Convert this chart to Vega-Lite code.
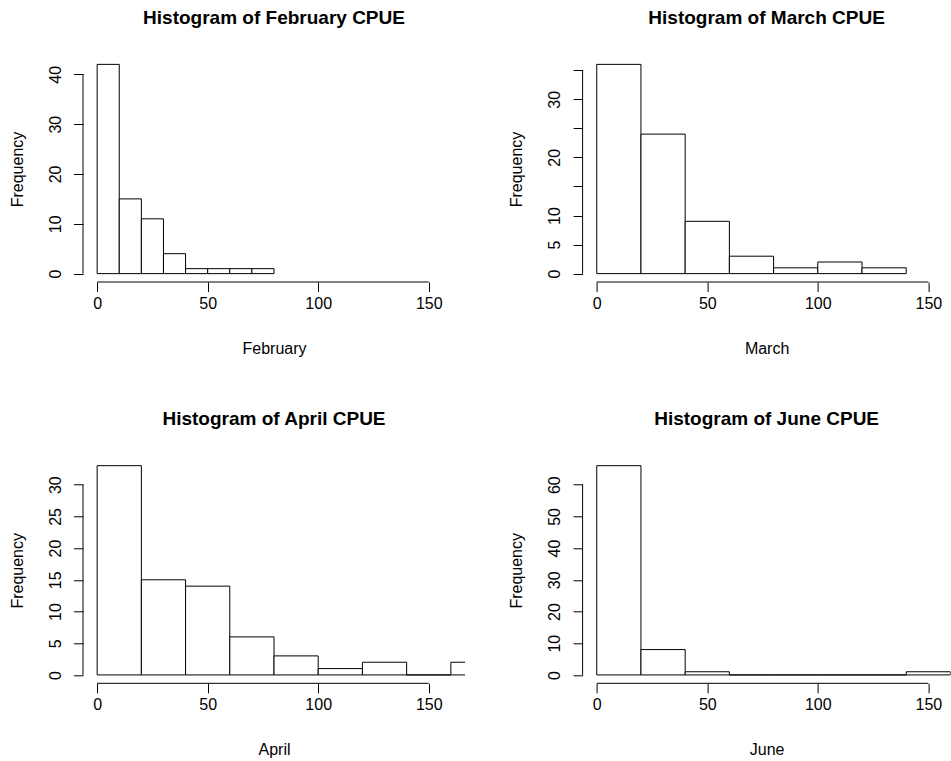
{
  "$schema": "https://vega.github.io/schema/vega-lite/v6.json",
  "background": "white",
  "padding": {"left": 9, "top": 8, "right": 0, "bottom": 0},
  "bounds": "flush",
  "columns": 2,
  "spacing": {"row": 175.3, "column": 117.6},
  "datasets": {
    "feb": [
      {"bin_start": 0, "bin_end": 10, "count": 42},
      {"bin_start": 10, "bin_end": 20, "count": 15},
      {"bin_start": 20, "bin_end": 30, "count": 11},
      {"bin_start": 30, "bin_end": 40, "count": 4},
      {"bin_start": 40, "bin_end": 50, "count": 1},
      {"bin_start": 50, "bin_end": 60, "count": 1},
      {"bin_start": 60, "bin_end": 70, "count": 1},
      {"bin_start": 70, "bin_end": 80, "count": 1}
    ],
    "mar": [
      {"bin_start": 0, "bin_end": 20, "count": 36},
      {"bin_start": 20, "bin_end": 40, "count": 24},
      {"bin_start": 40, "bin_end": 60, "count": 9},
      {"bin_start": 60, "bin_end": 80, "count": 3},
      {"bin_start": 80, "bin_end": 100, "count": 1},
      {"bin_start": 100, "bin_end": 120, "count": 2},
      {"bin_start": 120, "bin_end": 140, "count": 1}
    ],
    "apr": [
      {"bin_start": 0, "bin_end": 20, "count": 33},
      {"bin_start": 20, "bin_end": 40, "count": 15},
      {"bin_start": 40, "bin_end": 60, "count": 14},
      {"bin_start": 60, "bin_end": 80, "count": 6},
      {"bin_start": 80, "bin_end": 100, "count": 3},
      {"bin_start": 100, "bin_end": 120, "count": 1},
      {"bin_start": 120, "bin_end": 140, "count": 2},
      {"bin_start": 140, "bin_end": 160, "count": 0},
      {"bin_start": 160, "bin_end": 180, "count": 2}
    ],
    "jun": [
      {"bin_start": 0, "bin_end": 20, "count": 66},
      {"bin_start": 20, "bin_end": 40, "count": 8},
      {"bin_start": 40, "bin_end": 60, "count": 1},
      {"bin_start": 60, "bin_end": 80, "count": 0},
      {"bin_start": 80, "bin_end": 100, "count": 0},
      {"bin_start": 100, "bin_end": 120, "count": 0},
      {"bin_start": 120, "bin_end": 140, "count": 0},
      {"bin_start": 140, "bin_end": 160, "count": 1}
    ]
  },
  "concat": [
    {
      "width": 382, "height": 226,
      "title": "Histogram of February CPUE",
      "layer": [
        {
          "data": {"name": "feb"},
          "mark": {"type": "rect", "fill": "white", "stroke": "black", "strokeWidth": 1, "clip": true},
          "encoding": {
            "x": {"field": "bin_start", "type": "quantitative", "scale": {"domain": [-6.4, 166.4], "nice": false, "zero": false}, "axis": {"values": [0, 50, 100, 150], "title": "February"}},
            "x2": {"field": "bin_end"},
            "y": {"field": "count", "type": "quantitative", "scale": {"domain": [-1.68, 43.68], "nice": false, "zero": false}, "axis": {"values": [0, 10, 20, 30, 40], "title": "Frequency"}},
            "y2": {"datum": 0}
          }
        },
        {
          "data": {"values": [{}]},
          "mark": {"type": "rule", "color": "black", "strokeWidth": 1},
          "encoding": {
            "x": {"datum": 0, "type": "quantitative", "axis": {"values": [0, 50, 100, 150], "title": "February"}},
            "x2": {"datum": 150},
            "y": {"datum": -1.68, "type": "quantitative", "axis": {"values": [0, 10, 20, 30, 40], "title": "Frequency"}}
          }
        },
        {
          "data": {"values": [{}]},
          "mark": {"type": "rule", "color": "black", "strokeWidth": 1},
          "encoding": {
            "x": {"datum": -6.4, "type": "quantitative", "axis": {"values": [0, 50, 100, 150], "title": "February"}},
            "y": {"datum": 0, "type": "quantitative", "axis": {"values": [0, 10, 20, 30, 40], "title": "Frequency"}},
            "y2": {"datum": 40}
          }
        }
      ]
    },
    {
      "width": 368, "height": 226,
      "title": "Histogram of March CPUE",
      "layer": [
        {
          "data": {"name": "mar"},
          "mark": {"type": "rect", "fill": "white", "stroke": "black", "strokeWidth": 1, "clip": true},
          "encoding": {
            "x": {"field": "bin_start", "type": "quantitative", "scale": {"domain": [-6.4, 160.07], "nice": false, "zero": false}, "axis": {"values": [0, 50, 100, 150], "title": "March"}},
            "x2": {"field": "bin_end"},
            "y": {"field": "count", "type": "quantitative", "scale": {"domain": [-1.44, 37.44], "nice": false, "zero": false}, "axis": {"values": [0, 5, 10, 15, 20, 25, 30, 35], "labelExpr": "indexof([15, 25, 35], datum.value) >= 0 ? '' : datum.label", "title": "Frequency"}},
            "y2": {"datum": 0}
          }
        },
        {
          "data": {"values": [{}]},
          "mark": {"type": "rule", "color": "black", "strokeWidth": 1},
          "encoding": {
            "x": {"datum": 0, "type": "quantitative", "axis": {"values": [0, 50, 100, 150], "title": "March"}},
            "x2": {"datum": 150},
            "y": {"datum": -1.44, "type": "quantitative", "axis": {"values": [0, 5, 10, 15, 20, 25, 30, 35], "labelExpr": "indexof([15, 25, 35], datum.value) >= 0 ? '' : datum.label", "title": "Frequency"}}
          }
        },
        {
          "data": {"values": [{}]},
          "mark": {"type": "rule", "color": "black", "strokeWidth": 1},
          "encoding": {
            "x": {"datum": -6.4, "type": "quantitative", "axis": {"values": [0, 50, 100, 150], "title": "March"}},
            "y": {"datum": 0, "type": "quantitative", "axis": {"values": [0, 5, 10, 15, 20, 25, 30, 35], "labelExpr": "indexof([15, 25, 35], datum.value) >= 0 ? '' : datum.label", "title": "Frequency"}},
            "y2": {"datum": 35}
          }
        }
      ]
    },
    {
      "width": 382, "height": 226,
      "title": "Histogram of April CPUE",
      "layer": [
        {
          "data": {"name": "apr"},
          "mark": {"type": "rect", "fill": "white", "stroke": "black", "strokeWidth": 1, "clip": true},
          "encoding": {
            "x": {"field": "bin_start", "type": "quantitative", "scale": {"domain": [-6.4, 166.4], "nice": false, "zero": false}, "axis": {"values": [0, 50, 100, 150], "title": "April"}},
            "x2": {"field": "bin_end"},
            "y": {"field": "count", "type": "quantitative", "scale": {"domain": [-1.32, 34.32], "nice": false, "zero": false}, "axis": {"values": [0, 5, 10, 15, 20, 25, 30], "title": "Frequency"}},
            "y2": {"datum": 0}
          }
        },
        {
          "data": {"values": [{}]},
          "mark": {"type": "rule", "color": "black", "strokeWidth": 1},
          "encoding": {
            "x": {"datum": 0, "type": "quantitative", "axis": {"values": [0, 50, 100, 150], "title": "April"}},
            "x2": {"datum": 150},
            "y": {"datum": -1.32, "type": "quantitative", "axis": {"values": [0, 5, 10, 15, 20, 25, 30], "title": "Frequency"}}
          }
        },
        {
          "data": {"values": [{}]},
          "mark": {"type": "rule", "color": "black", "strokeWidth": 1},
          "encoding": {
            "x": {"datum": -6.4, "type": "quantitative", "axis": {"values": [0, 50, 100, 150], "title": "April"}},
            "y": {"datum": 0, "type": "quantitative", "axis": {"values": [0, 5, 10, 15, 20, 25, 30], "title": "Frequency"}},
            "y2": {"datum": 30}
          }
        }
      ]
    },
    {
      "width": 368, "height": 226,
      "title": "Histogram of June CPUE",
      "layer": [
        {
          "data": {"name": "jun"},
          "mark": {"type": "rect", "fill": "white", "stroke": "black", "strokeWidth": 1, "clip": true},
          "encoding": {
            "x": {"field": "bin_start", "type": "quantitative", "scale": {"domain": [-6.4, 160.07], "nice": false, "zero": false}, "axis": {"values": [0, 50, 100, 150], "title": "June"}},
            "x2": {"field": "bin_end"},
            "y": {"field": "count", "type": "quantitative", "scale": {"domain": [-2.64, 68.64], "nice": false, "zero": false}, "axis": {"values": [0, 10, 20, 30, 40, 50, 60], "title": "Frequency"}},
            "y2": {"datum": 0}
          }
        },
        {
          "data": {"values": [{}]},
          "mark": {"type": "rule", "color": "black", "strokeWidth": 1},
          "encoding": {
            "x": {"datum": 0, "type": "quantitative", "axis": {"values": [0, 50, 100, 150], "title": "June"}},
            "x2": {"datum": 150},
            "y": {"datum": -2.64, "type": "quantitative", "axis": {"values": [0, 10, 20, 30, 40, 50, 60], "title": "Frequency"}}
          }
        },
        {
          "data": {"values": [{}]},
          "mark": {"type": "rule", "color": "black", "strokeWidth": 1},
          "encoding": {
            "x": {"datum": -6.4, "type": "quantitative", "axis": {"values": [0, 50, 100, 150], "title": "June"}},
            "y": {"datum": 0, "type": "quantitative", "axis": {"values": [0, 10, 20, 30, 40, 50, 60], "title": "Frequency"}},
            "y2": {"datum": 60}
          }
        }
      ]
    }
  ],
  "resolve": {"scale": {"x": "independent", "y": "independent"}},
  "config": {
    "view": {"stroke": null},
    "font": "Liberation Sans",
    "axis": {
      "domain": false, "grid": false, "labelOverlap": false,
      "tickColor": "black", "tickSize": 9.5, "tickWidth": 1,
      "labelFont": "Liberation Sans", "labelFontSize": 16, "labelColor": "black",
      "titleFont": "Liberation Sans", "titleFontSize": 16, "titleFontWeight": "normal", "titleColor": "black"
    },
    "axisX": {"labelPadding": 4, "labelBaseline": "top", "titlePadding": 29},
    "axisY": {"labelAngle": 270, "labelAlign": "center", "labelBaseline": "alphabetic", "labelPadding": 13.2, "titleBaseline": "alphabetic", "titlePadding": 25},
    "title": {"font": "Liberation Sans", "fontSize": 19, "fontWeight": "bold", "color": "black", "anchor": "middle", "frame": "group", "baseline": "alphabetic", "offset": 28.1}
  }
}
